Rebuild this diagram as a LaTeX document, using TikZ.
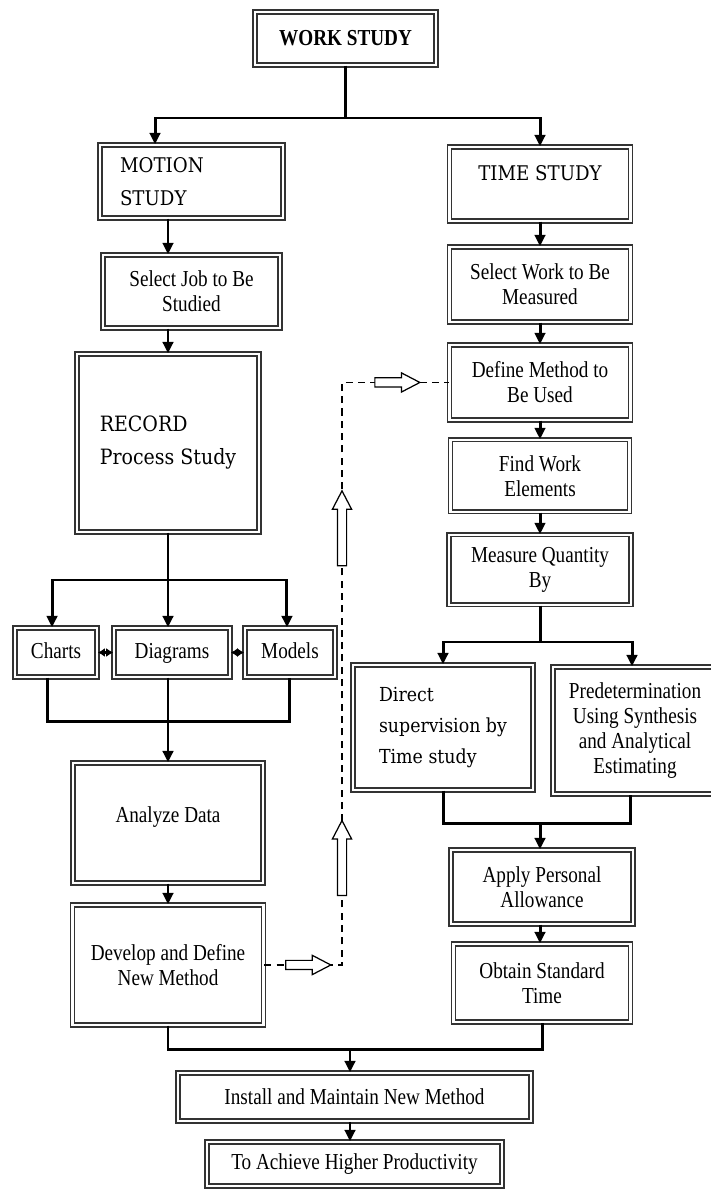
\documentclass[tikz,border=0pt]{standalone}
\usepackage{fontspec}
\setmainfont{Liberation Serif}[FakeStretch=0.84]
\newfontfamily\altfont{DejaVu Serif}[FakeStretch=0.9]
\usetikzlibrary{positioning,arrows.meta,shapes.arrows}

\begin{document}
\begin{tikzpicture}[
                    x=0.02cm, y=-0.02cm,
                    node distance=2.0cm,
                    semithick,
                    box/.style={draw=black!80, double=white, double distance=1.2pt,
                        line width=0.85pt, fill=white, align=center, inner sep=2pt,
                        font=\fontsize{13}{14.2}\selectfont},
                    altbox/.style={box, font=\altfont\fontsize{11.5}{18.5}\selectfont},
                    smallbox/.style={box, minimum height=0.98cm, text height=0.7em, text depth=0.04em},
                    conn/.style={line width=1.7pt},
                    arr/.style={conn, -{Triangle[length=6.5pt,width=6pt]}},
                    dbl/.style={line width=1.2pt, {Latex[length=4pt,width=5pt]}-{Latex[length=4pt,width=5pt]}},
                    dsh/.style={thick, dash pattern=on 4pt off 3pt},
                    harrow/.style={single arrow, draw=black, fill=white, solid, line width=0.7pt,
                        inner sep=0.08cm, minimum width=0pt, single arrow head extend=0.1cm,
                        single arrow tip angle=55, minimum height=#1},
                    harrow/.default=0.9cm
                ]
                \useasboundingbox (0,0) rectangle (710,1189);

                % top
                \node[box, font=\bfseries\fontsize{13}{15}\selectfont, minimum width=3.62cm, minimum height=1.06cm] (ws) at (345.5,38.5) {WORK STUDY};

                % left column
                \node[altbox, align=left, text width=2.86cm, inner xsep=0.4cm, minimum height=1.46cm] (ms) at (191.5,181.5) {MOTION\\STUDY};
                \node[box, minimum width=3.54cm, minimum height=1.46cm, below of=ms, node distance=2.2cm] (sj) {Select Job to Be\\Studied};
                \node[altbox, align=left, font=\altfont\fontsize{12}{18.8}\selectfont, minimum width=3.64cm, minimum height=3.56cm] (rec) at (168,443) {RECORD\\Process Study};
                \node[smallbox, minimum width=2.32cm] (dg) at (172,652.5) {Diagrams};
                \node[smallbox, minimum width=1.64cm, left of=dg, node distance=2.32cm] (ch) {Charts};
                \node[smallbox, minimum width=1.8cm, right of=dg, node distance=2.36cm] (mo) {Models};
                \node[box, minimum width=3.8cm, minimum height=2.4cm, text depth=10pt] (ad) at (168,823) {Analyze Data};
                \node[box, minimum width=3.82cm, minimum height=2.4cm, below of=ad, node distance=2.84cm] (dv) {Develop and Define\\New Method};

                % right column
                \node[altbox, minimum width=3.62cm, minimum height=1.48cm, text depth=12pt] (ts) at (540,184) {TIME STUDY};
                \node[box, minimum width=3.62cm, minimum height=1.5cm, below of=ts, node distance=2.01cm] (sw) {Select Work to Be\\Measured};
                \node[box, minimum width=3.62cm, minimum height=1.5cm, below of=sw, node distance=1.96cm] (dm) {Define Method to\\Be Used};
                \node[box, minimum width=3.58cm, minimum height=1.44cm, below of=dm, node distance=1.87cm] (fw) {Find Work\\Elements};
                \node[box, minimum width=3.64cm, minimum height=1.4cm, below of=fw, node distance=1.88cm] (mq) {Measure Quantity\\By};
                \node[altbox, align=left, font=\altfont\fontsize{11}{17.6}\selectfont, minimum width=3.6cm, minimum height=2.5cm] (ds) at (443,727.5) {Direct\\supervision by\\Time study};
                \node[box, minimum width=3.28cm, minimum height=2.54cm] (pd) at (635,730.5) {Predetermination\\Using Synthesis\\and Analytical\\Estimating};
                \node[box, minimum width=3.64cm, minimum height=1.48cm] (ap) at (542,887) {Apply Personal\\Allowance};
                \node[box, minimum width=3.54cm, minimum height=1.56cm, below of=ap, node distance=1.92cm] (os) {Obtain Standard\\Time};

                % bottom
                \node[box, minimum width=7.06cm, minimum height=0.96cm] (im) at (354.5,1097) {Install and Maintain New Method};
                \node[box, minimum width=5.9cm, minimum height=0.88cm, below of=im, node distance=1.34cm] (hp) {To Achieve Higher Productivity};

                % junctions
                \coordinate (jt) at (345.5,118);
                \coordinate (js) at (168,580);
                \coordinate (jm) at (168,721);
                \coordinate (jr) at (540,642);
                \coordinate (jq) at (540,823);
                \coordinate (jf) at (350,1049);
                \coordinate (dc) at (342,0);

                \draw[conn] (ws.south) -- (jt);
                \draw[arr] (jt) -| ([xshift=-0.73cm]ms.north);
                \draw[arr] (jt) -| (ts.north);

                \path
                (ms.south -| rec.north) edge[arr] (sj.north -| rec.north)
                (sj.south -| rec.north) edge[arr] (rec.north)
                ;

                \draw[conn] (rec.south) -- (js);
                \draw[arr] (js) -| ([xshift=-0.08cm]ch.north);
                \draw[arr] (js) -- (js |- dg.north);
                \draw[arr] (js) -| ([xshift=-0.06cm]mo.north);
                \draw[dbl] (ch) -- (dg);
                \draw[dbl] (dg) -- (mo);
                \draw[conn] ([xshift=-0.18cm]ch.south) |- (jm) -| (mo.south);
                \draw[conn] (jm |- dg.south) -- (jm);
                \draw[arr] (jm) -- (ad.north);
                \draw[arr] (ad.south) -- (ad.south |- dv.north);

                \path
                (ts) edge[arr] (sw)
                (sw) edge[arr] (dm)
                (dm) edge[arr] (fw)
                (fw) edge[arr] (mq)
                ;

                \draw[conn] (mq.south) -- (jr);
                \draw[arr] (jr) -| (ds.north);
                \draw[arr] (jr) -| ([xshift=-0.06cm]pd.north);
                \draw[conn] (ds.south) |- (jq) -| ([xshift=-0.1cm]pd.south);
                \draw[arr] (jq) -- (jq |- ap.north);
                \draw[arr] (ap.south -| jq) -- (os.north -| jq);

                \draw[conn] (dv.south) |- (jf) -| (os.south);
                \draw[arr] (jf) -- (jf |- im.north);
                \draw[arr] (im.south -| jf) -- (hp.north -| jf);

                % feedback
                \draw[dsh] (dv.east) -- node[harrow, pos=0.51] {} (dv.east -| dc)
                    -- node[harrow=1.5cm, pos=0.176, sloped] {} node[harrow=1.5cm, pos=0.742, sloped] {} (dm.west -| dc)
                    -- node[harrow, pos=0.477] {} (dm.west);
            \end{tikzpicture}
\end{document}
